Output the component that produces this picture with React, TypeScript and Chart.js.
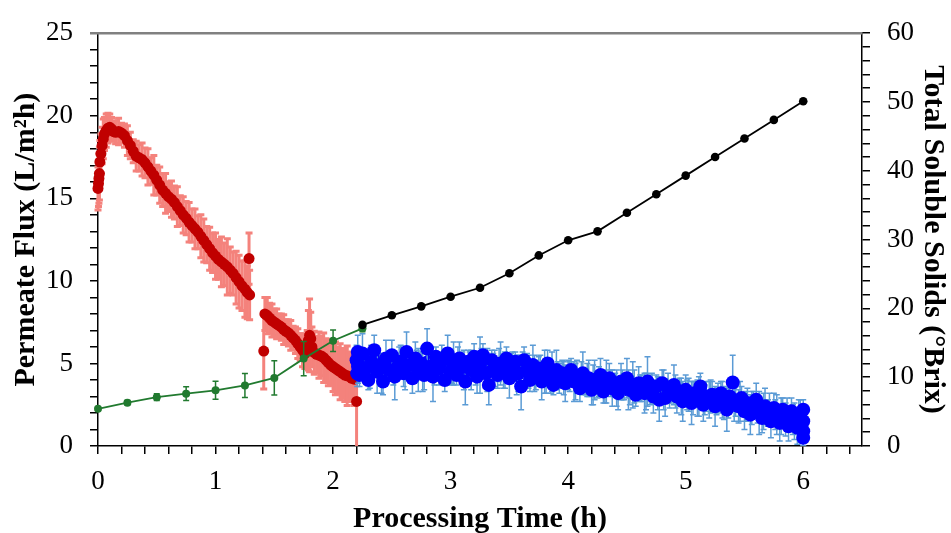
import React, { useEffect, useRef } from 'react';
import { Chart, registerables } from 'chart.js';
Chart.register(...registerables);

const FONT = "'Liberation Serif', 'Times New Roman', serif";

// Permeate flux, first stage (red)
const RED_TIME = [
  0.0, 0.004, 0.008, 0.012, 0.016, 0.025, 0.035, 0.045, 0.055, 0.07,
  0.085, 0.1, 0.115, 0.13, 0.15, 0.175, 0.2, 0.225, 0.25, 0.275,
  0.3, 0.325, 0.35, 0.375, 0.4, 0.425, 0.45, 0.475, 0.5, 0.525,
  0.55, 0.575, 0.6, 0.625, 0.65, 0.675, 0.7, 0.725, 0.75, 0.775,
  0.8, 0.825, 0.85, 0.875, 0.9, 0.925, 0.95, 0.975, 1.0, 1.025,
  1.05, 1.075, 1.1, 1.125, 1.15, 1.175, 1.2, 1.225, 1.25, 1.27,
  1.29, 1.285,
  1.41, 1.42, 1.44, 1.46, 1.48, 1.5, 1.52, 1.54, 1.56, 1.58,
  1.6, 1.62, 1.64, 1.66, 1.68, 1.7, 1.72, 1.74, 1.76, 1.78,
  1.79, 1.8, 1.81, 1.82, 1.84, 1.86, 1.88, 1.9, 1.92, 1.94,
  1.96, 1.98, 2.0, 2.02, 2.04, 2.06, 2.08, 2.1, 2.12, 2.14,
  2.16, 2.18, 2.2,
];
const RED_FLUX = [
  15.6, 15.9, 16.2, 16.5, 17.2, 17.7, 18.2, 18.6, 18.9, 19.1,
  19.25, 19.3, 19.2, 19.05, 19.0, 19.05, 18.95, 18.8, 18.5, 18.2,
  17.85, 17.55, 17.45, 17.35, 17.15, 16.9, 16.65, 16.4, 16.1, 15.8,
  15.5, 15.3, 15.1, 14.95, 14.75, 14.5, 14.25, 14.0, 13.8, 13.55,
  13.35, 13.15, 12.95, 12.7, 12.45, 12.2, 11.95, 11.7, 11.5, 11.3,
  11.15, 11.0, 10.85, 10.65, 10.45, 10.2, 9.95, 9.7, 9.5, 9.3,
  9.15, 11.35,
  5.75, 8.0, 7.9, 7.75, 7.6, 7.5, 7.4, 7.3, 7.2, 7.05,
  6.95, 6.85, 6.7, 6.55, 6.4, 6.2, 6.0, 5.8, 5.6, 5.9,
  6.4, 6.7, 6.5, 6.0, 5.65, 5.55, 5.5, 5.45, 5.35, 5.2,
  5.05, 4.9, 4.8, 4.7, 4.6, 4.5, 4.4, 4.3, 4.25, 4.2,
  4.1, 4.05, 2.7,
];
const RED_ERR = [
  1.3, 1.4, 1.5, 1.6, 1.3, 1.2, 1.1, 1.2, 1.0, 1.0,
  0.9, 0.8, 0.7, 0.6, 0.7, 0.8, 0.6, 0.7, 0.9, 0.8,
  0.7, 0.9, 0.8, 1.0, 0.9, 1.1, 0.8, 1.2, 0.9, 1.1,
  1.0, 1.2, 0.9, 1.1, 1.0, 1.2, 0.9, 1.1, 1.0, 1.2,
  1.0, 1.2, 1.0, 1.3, 1.3, 1.1, 1.3, 1.2, 1.4, 1.2,
  1.5, 1.3, 1.7, 1.4, 1.3, 1.6, 1.6, 1.5, 1.7, 1.6,
  1.5, 1.55,
  2.3, 1.0, 1.1, 0.9, 1.0, 0.8, 0.9, 0.7, 0.8, 0.9,
  0.7, 0.8, 0.9, 0.7, 0.8, 0.9, 0.8, 1.0, 0.9, 1.1,
  1.8, 2.2, 1.6, 1.2, 1.3, 1.1, 1.4, 1.2, 1.5, 1.3,
  1.4, 1.2, 1.5, 1.6, 1.4, 1.7, 1.5, 1.6, 1.8, 1.5,
  1.4, 1.6, 3.0,
];

// Permeate flux, second stage (blue)
const BLUE_TIME = [
  2.2, 2.225, 2.25, 2.275, 2.3, 2.325, 2.35, 2.375, 2.4, 2.425,
  2.45, 2.475, 2.5, 2.525, 2.55, 2.575, 2.6, 2.625, 2.65, 2.675,
  2.7, 2.725, 2.75, 2.775, 2.8, 2.825, 2.85, 2.875, 2.9, 2.925,
  2.95, 2.975, 3.0, 3.025, 3.05, 3.075, 3.1, 3.125, 3.15, 3.175,
  3.2, 3.225, 3.25, 3.275, 3.3, 3.325, 3.35, 3.375, 3.4, 3.425,
  3.45, 3.475, 3.5, 3.525, 3.55, 3.575, 3.6, 3.625, 3.65, 3.675,
  3.7, 3.725, 3.75, 3.775, 3.8, 3.825, 3.85, 3.875, 3.9, 3.925,
  3.95, 3.975, 4.0, 4.025, 4.05, 4.075, 4.1, 4.125, 4.15, 4.175,
  4.2, 4.225, 4.25, 4.275, 4.3, 4.325, 4.35, 4.375, 4.4, 4.425,
  4.45, 4.475, 4.5, 4.525, 4.55, 4.575, 4.6, 4.625, 4.65, 4.675,
  4.7, 4.725, 4.75, 4.775, 4.8, 4.825, 4.85, 4.875, 4.9, 4.925,
  4.95, 4.975, 5.0, 5.025, 5.05, 5.075, 5.1, 5.125, 5.15, 5.175,
  5.2, 5.225, 5.25, 5.275, 5.3, 5.325, 5.35, 5.375, 5.4, 5.425,
  5.45, 5.475, 5.5, 5.525, 5.55, 5.575, 5.6, 5.625, 5.65, 5.675,
  5.7, 5.725, 5.75, 5.775, 5.8, 5.825, 5.85, 5.875, 5.9, 5.925,
  5.95, 5.975, 6.0,
  2.205, 2.21, 2.215, 6.0, 6.0, 6.0,
];
const BLUE_FLUX = [
  5.2, 4.3, 5.6, 4.7, 4.0, 5.1, 5.8, 4.5, 4.9, 3.9,
  5.3, 4.6, 5.5, 4.2, 4.8, 5.1, 4.4, 5.7, 4.9, 4.1,
  5.3, 4.6, 5.0, 4.3, 5.9, 4.8, 4.2, 5.4, 4.7, 5.2,
  4.0, 5.6, 4.5, 5.0, 4.3, 5.3, 4.8, 3.9, 5.1, 4.6,
  5.4, 4.2, 4.9, 5.5, 4.4, 3.7, 5.2, 4.7, 4.3, 5.0,
  4.5, 5.3, 4.1, 4.8, 5.1, 4.4, 3.6, 5.2, 4.6, 4.0,
  4.9, 4.3, 4.7, 3.9, 4.5, 5.0, 4.2, 3.7, 4.6, 4.1,
  4.4, 3.8, 4.3, 4.6, 3.9, 4.2, 3.5, 4.4, 3.8, 4.1,
  3.4, 4.0, 3.7, 4.3, 3.3, 3.9, 4.1, 3.5, 3.8, 3.2,
  3.9, 3.6, 4.1, 3.4, 3.7, 3.1, 3.8, 3.5, 3.2, 3.9,
  3.4, 3.0, 3.6, 2.8, 3.8, 2.9, 3.5, 3.2, 3.7, 3.0,
  3.3, 2.7, 3.4, 3.1, 2.6, 3.2, 2.9, 3.6, 2.5, 3.0,
  2.8, 3.1, 2.4, 2.9, 3.2, 2.6, 2.2, 3.0, 3.85, 2.7,
  2.4, 2.9, 2.1, 2.6, 1.9, 2.5, 2.8, 2.0, 1.7, 2.4,
  2.0, 1.5, 2.3, 1.9, 1.4, 2.2, 1.6, 1.2, 2.1, 1.5,
  1.1, 1.9, 1.5,
  4.4, 5.7, 4.9, 2.2, 0.9, 0.5,
];
const BLUE_ERR = [
  0.9, 0.7, 1.2, 0.8, 0.6, 1.0, 0.9, 1.3, 0.7, 0.8,
  1.1, 0.6, 0.9, 1.4, 0.7, 1.0, 0.8, 1.2, 0.6, 0.9,
  1.0, 1.3, 0.7, 0.9, 1.2, 0.8, 1.5, 0.6, 1.0, 0.9,
  0.7, 1.1, 0.8, 1.3, 0.6, 1.0, 0.9, 1.4, 0.7, 1.2,
  0.8, 1.0, 1.7, 0.7, 0.9, 1.2, 0.6, 1.1, 0.8, 1.3,
  1.0, 0.7, 1.2, 0.9, 0.6, 1.1, 1.4, 0.8, 1.0, 0.7,
  1.2, 0.9, 0.7, 1.1, 1.3, 0.8, 1.0, 0.6, 1.2, 0.9,
  0.8, 1.1, 0.9, 0.7, 1.2, 1.0, 0.8, 1.3, 0.7, 1.1,
  0.9, 1.2, 0.8, 1.0, 0.7, 1.3, 0.9, 1.1, 0.6, 1.0,
  1.1, 0.8, 1.2, 0.9, 1.4, 0.7, 1.0, 0.8, 1.2, 1.5,
  0.9, 1.0, 0.7, 1.3, 0.8, 1.1, 0.9, 0.6, 1.2, 1.0,
  0.8, 1.2, 0.9, 1.0, 1.3, 0.7, 1.1, 0.8, 1.0, 0.9,
  1.1, 0.8, 1.2, 0.9, 0.7, 1.0, 1.3, 0.8, 1.65, 0.9,
  1.0, 0.7, 1.1, 0.9, 1.2, 0.8, 1.0, 1.3, 0.9, 1.1,
  0.8, 1.0, 0.9, 1.2, 1.1, 0.7, 1.0, 0.9, 0.8, 1.1,
  1.0, 0.9, 0.8,
  0.8, 1.0, 0.7, 0.6, 0.9, 0.5,
];
// extra interleaved replicate readings in the second stage (blue)
const BLUE2_TIME = [
  2.2125, 2.2625, 2.3125, 2.3625, 2.4125, 2.4625, 2.5125, 2.5625, 2.6125, 2.6625,
  2.7125, 2.7625, 2.8125, 2.8625, 2.9125, 2.9625, 3.0125, 3.0625, 3.1125, 3.1625,
  3.2125, 3.2625, 3.3125, 3.3625, 3.4125, 3.4625, 3.5125, 3.5625, 3.6125, 3.6625,
  3.7125, 3.7625, 3.8125, 3.8625, 3.9125, 3.9625, 4.0125, 4.0625, 4.1125, 4.1625,
  4.2125, 4.2625, 4.3125, 4.3625, 4.4125, 4.4625, 4.5125, 4.5625, 4.6125, 4.6625,
  4.7125, 4.7625, 4.8125, 4.8625, 4.9125, 4.9625, 5.0125, 5.0625, 5.1125, 5.1625,
  5.2125, 5.2625, 5.3125, 5.3625, 5.4125, 5.4625, 5.5125, 5.5625, 5.6125, 5.6625,
  5.7125, 5.7625, 5.8125, 5.8625, 5.9125, 5.9625,
];
const BLUE2_FLUX = [
  4.8, 5.0, 4.6, 5.2, 4.4, 4.9, 4.7, 5.1, 4.5, 4.8,
  4.9, 4.5, 5.1, 4.7, 4.9, 4.8, 4.7, 5.0, 4.6, 4.9,
  4.7, 5.0, 4.6, 4.8, 4.9, 4.6, 4.7, 4.3, 4.9, 4.5,
  4.4, 4.6, 4.2, 4.5, 4.3, 4.1, 4.2, 3.9, 4.3, 4.0,
  3.7, 3.9, 3.6, 3.8, 3.5, 3.7, 3.4, 3.6, 3.5, 3.3,
  3.5, 3.2, 3.4, 3.1, 3.3, 3.0, 3.1, 2.9, 3.0, 2.8,
  3.0, 2.7, 2.8, 2.6, 2.5, 2.7, 2.4, 2.3, 2.2, 2.1,
  2.2, 1.9, 1.8, 1.9, 1.6, 1.8,
];
const BLUE2_ERR = [
  1.0, 0.8, 1.1, 0.9, 1.2, 0.7, 1.0, 0.9, 1.1, 0.8,
  0.9, 1.2, 0.8, 1.0, 0.7, 1.1, 0.9, 1.0, 1.2, 0.8,
  1.0, 0.9, 1.3, 0.8, 1.0, 1.1, 0.9, 1.2, 0.8, 1.0,
  1.1, 0.9, 1.0, 1.2, 0.8, 1.0, 0.9, 1.1, 0.8, 1.0,
  1.2, 0.9, 1.0, 0.8, 1.1, 0.9, 1.2, 1.0, 0.8, 1.1,
  0.9, 1.0, 1.2, 0.8, 1.0, 1.1, 0.9, 1.0, 1.2, 0.9,
  1.0, 0.8, 1.1, 0.9, 1.0, 1.2, 0.9, 1.0, 0.8, 1.1,
  1.0, 0.9, 1.1, 1.0, 0.9, 1.0,
];

// Total soluble solids (°Brix), first stage (green) and second stage (black)
const GREEN_TIME = [0, 0.25, 0.5, 0.75, 1.0, 1.25, 1.5, 1.75, 2.0, 2.25];
const GREEN_TSS = [5.4, 6.3, 7.1, 7.6, 8.1, 8.8, 9.9, 12.7, 15.3, 17.1];
const GREEN_ERR = [0.2, 0.3, 0.5, 1.0, 1.3, 1.75, 2.5, 2.5, 1.55, 0.5];

const BLACK_TIME = [2.25, 2.5, 2.75, 3.0, 3.25, 3.5, 3.75, 4.0, 4.25, 4.5, 4.75, 5.0, 5.25, 5.5, 5.75, 6.0];
const BLACK_TSS = [17.6, 19.0, 20.3, 21.7, 23.0, 25.1, 27.7, 29.9, 31.2, 33.9, 36.6, 39.3, 42.0, 44.7, 47.4, 50.1];

const X_LABELS = [0, 1, 2, 3, 4, 5, 6];
const Y_LABELS = [0, 5, 10, 15, 20, 25];
const Y2_LABELS = [0, 10, 20, 30, 40, 50, 60];

const toPoints = (xs: number[], ys: number[]) =>
  xs.slice(0, Math.min(xs.length, ys.length)).map((x, i) => ({ x, y: ys[i] }));

const labelFor = (labels: number[], v: number) =>
  labels.some((l) => Math.abs(l - v) < 1e-6) ? String(Math.round(v)) : '';

const errorBarPlugin = {
  id: 'errorBars',
  beforeDatasetDraw(chart: any, args: any) {
    const ds = chart.data.datasets[args.index];
    if (!ds.errors) return;
    const meta = args.meta;
    const yScale = chart.scales[meta.yAxisID];
    const ctx = chart.ctx;
    const area = chart.chartArea;
    ctx.save();
    ctx.beginPath();
    ctx.rect(area.left - 10, area.top - 10, area.right - area.left + 20, area.bottom - area.top + 10);
    ctx.clip();
    ctx.strokeStyle = ds.errorColor;
    ctx.lineWidth = ds.errorWidth || 1.2;
    const cap = ds.capHalf || 3;
    meta.data.forEach((el: any, i: number) => {
      const e = ds.errors[i];
      if (!e) return;
      const v = ds.data[i].y;
      const x = el.x;
      const yT = yScale.getPixelForValue(v + e);
      const yB = yScale.getPixelForValue(v - e);
      ctx.beginPath();
      ctx.moveTo(x, yT);
      ctx.lineTo(x, yB);
      ctx.moveTo(x - cap, yT);
      ctx.lineTo(x + cap, yT);
      ctx.moveTo(x - cap, yB);
      ctx.lineTo(x + cap, yB);
      ctx.stroke();
    });
    ctx.restore();
  },
};

const topFramePlugin = {
  id: 'topFrame',
  beforeDatasetsDraw(chart: any) {
    const { ctx, chartArea } = chart;
    ctx.save();
    ctx.strokeStyle = '#808080';
    ctx.lineWidth = 2.5;
    ctx.beginPath();
    ctx.moveTo(chartArea.left - 8, chartArea.top);
    ctx.lineTo(chartArea.right, chartArea.top);
    ctx.stroke();
    ctx.restore();
  },
};

const tickFont = { family: FONT, size: 27 };
const titleFont = { family: FONT, size: 30, weight: 'bold' as const };
const gridOpts = { display: true, drawOnChartArea: false, drawTicks: true, tickLength: 8, color: '#000', lineWidth: 1.5 };
const borderOpts = { display: true, color: '#000', width: 1.5 };

const blueStyle = {
  yAxisID: 'y',
  showLine: false,
  backgroundColor: '#0000ff',
  pointBackgroundColor: '#0000ff',
  pointBorderColor: '#0000ff',
  pointRadius: 7,
  pointBorderWidth: 0,
  errorColor: '#5b9bd5',
  errorWidth: 1.5,
  capHalf: 3,
  clip: false,
};

export default function App() {
  const ref = useRef<HTMLCanvasElement>(null);
  useEffect(() => {
    if (!ref.current) return;
    const chart = new Chart(ref.current, {
      type: 'scatter',
      data: {
        datasets: [
          {
            label: 'TSS stage 2',
            data: toPoints(BLACK_TIME, BLACK_TSS),
            yAxisID: 'y1',
            showLine: true,
            borderColor: '#000',
            borderWidth: 1.8,
            backgroundColor: '#000',
            pointBackgroundColor: '#000',
            pointBorderColor: '#000',
            pointRadius: 4.3,
            pointBorderWidth: 0,
            clip: false,
          } as any,
          {
            label: 'TSS stage 1',
            data: toPoints(GREEN_TIME, GREEN_TSS),
            yAxisID: 'y1',
            showLine: true,
            borderColor: '#217a2f',
            borderWidth: 1.8,
            backgroundColor: '#217a2f',
            pointBackgroundColor: '#217a2f',
            pointBorderColor: '#217a2f',
            pointRadius: 4,
            pointBorderWidth: 0,
            errors: GREEN_ERR,
            errorColor: '#217a2f',
            errorWidth: 1.5,
            capHalf: 3,
            clip: false,
          } as any,
          {
            label: 'Flux stage 2',
            data: toPoints(BLUE_TIME, BLUE_FLUX),
            errors: BLUE_ERR,
            ...blueStyle,
          } as any,
          {
            label: 'Flux stage 2 (replicate)',
            data: toPoints(BLUE2_TIME, BLUE2_FLUX),
            errors: BLUE2_ERR,
            ...blueStyle,
          } as any,
          {
            label: 'Flux stage 1',
            data: toPoints(RED_TIME, RED_FLUX),
            yAxisID: 'y',
            showLine: false,
            backgroundColor: '#c00000',
            pointBackgroundColor: '#c00000',
            pointBorderColor: '#c00000',
            pointRadius: 5.5,
            pointBorderWidth: 0,
            errors: RED_ERR,
            errorColor: '#f4827c',
            errorWidth: 3,
            capHalf: 3.5,
            clip: false,
          } as any,
        ],
      },
      options: {
        responsive: false,
        animation: false,
        devicePixelRatio: 1,
        layout: { padding: { top: 25, left: 0, right: 0, bottom: 0 } },
        plugins: { legend: { display: false }, tooltip: { enabled: false } },
        scales: {
          x: {
            type: 'linear',
            position: 'bottom',
            min: 0,
            max: 6.5,
            afterFit: (s: any) => { s.height = 87; },
            ticks: {
              stepSize: 0.2,
              includeBounds: false,
              autoSkip: false,
              maxRotation: 0,
              padding: 12,
              color: '#000',
              font: tickFont,
              callback: (v: any) => labelFor(X_LABELS, Number(v)),
            },
            grid: gridOpts,
            border: borderOpts,
            title: {
              display: true,
              text: 'Processing Time (h)',
              color: '#000',
              font: { ...titleFont, lineHeight: 0.9 },
              padding: { top: 0, bottom: 0 },
            },
          },
          y: {
            type: 'linear',
            position: 'left',
            min: 0,
            max: 25,
            afterFit: (s: any) => { s.width = 98; },
            ticks: {
              stepSize: 1,
              autoSkip: false,
              padding: 17,
              color: '#000',
              font: tickFont,
              callback: (v: any) => labelFor(Y_LABELS, Number(v)),
            },
            grid: gridOpts,
            border: borderOpts,
            title: {
              display: true,
              text: 'Permeate Flux (L/m²h)',
              color: '#000',
              font: titleFont,
              padding: { top: 8, bottom: 0 },
            },
          },
          y1: {
            type: 'linear',
            position: 'right',
            min: 0,
            max: 60,
            afterFit: (s: any) => { s.width = 89; },
            ticks: {
              stepSize: 2,
              autoSkip: false,
              padding: 17,
              color: '#000',
              font: tickFont,
              callback: (v: any) => labelFor(Y2_LABELS, Number(v)),
            },
            grid: gridOpts,
            border: borderOpts,
            title: {
              display: true,
              text: 'Total Soluble Solids (°Brix)',
              color: '#000',
              font: titleFont,
              padding: { top: 0, bottom: 0 },
            },
          },
        },
      } as any,
      plugins: [errorBarPlugin, topFramePlugin],
    });
    return () => chart.destroy();
  }, []);

  return (
    <div style={{ position: 'absolute', left: 0, top: 0, width: 951, height: 533, background: '#fff' }}>
      <canvas ref={ref} width={951} height={533} style={{ display: 'block', width: 951, height: 533 }} />
    </div>
  );
}
